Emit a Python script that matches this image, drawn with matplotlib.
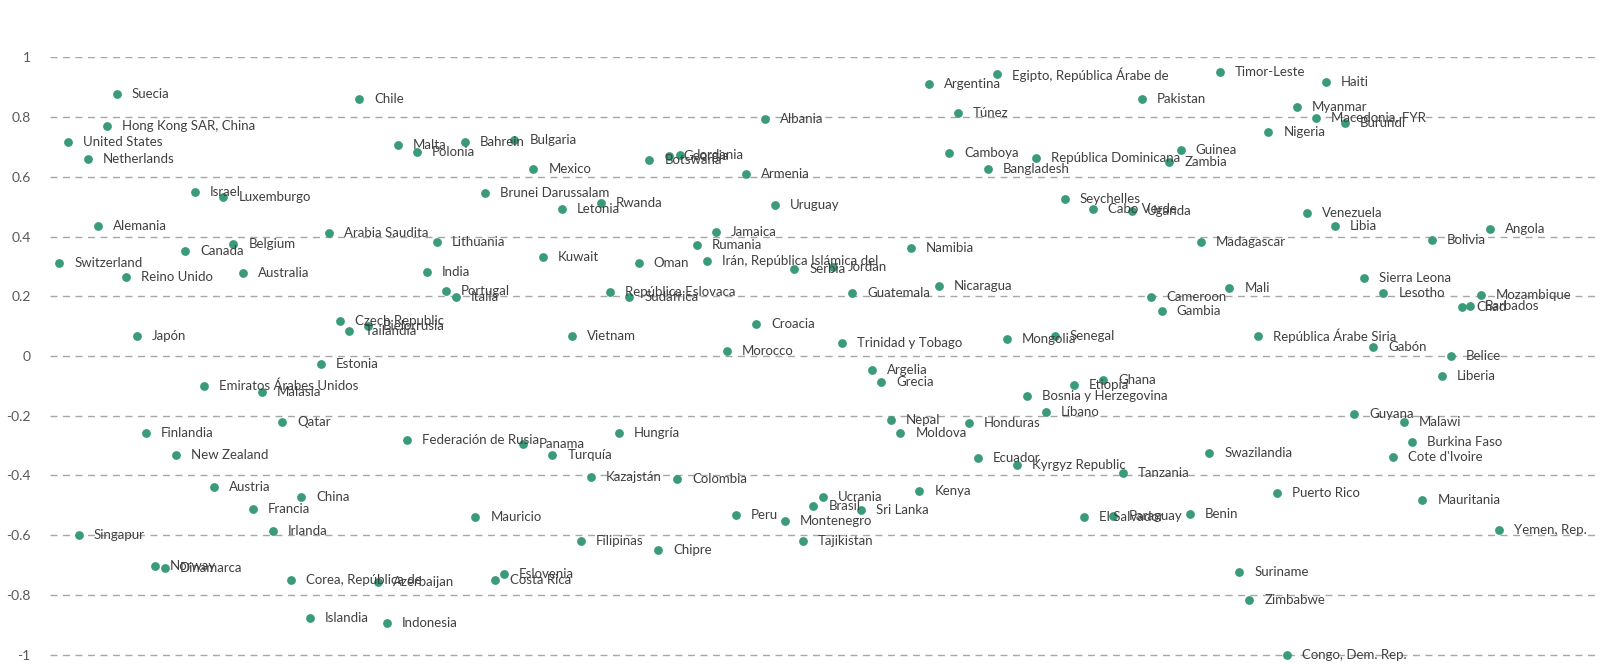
import matplotlib.pyplot as plt

# country labels, x position (0-100) and y value
countries = [
    "Suecia", "Chile", "Hong Kong SAR, China", "United States", "Netherlands",
    "Malta", "Polonia", "Israel", "Luxemburgo", "Alemania",
    "Arabia Saudita", "Belgium", "Canada", "Switzerland", "Reino Unido",
    "Australia", "Czech Republic", "Tailandia", "Bielorrusia", "Japón",
    "Estonia", "Emiratos Árabes Unidos", "Malasia", "Qatar", "Finlandia",
    "New Zealand", "Federación de Rusia", "Austria", "China", "Francia",
    "Irlanda", "Singapur", "Norway", "Dinamarca", "Corea, República de",
    "Azerbaijan", "Islandia", "Indonesia", "Bahrein", "Bulgaria",
    "Albania", "Mexico", "Botswana", "Georgia", "Jordania",
    "Armenia", "Brunei Darussalam", "Letonia", "Rwanda", "Uruguay",
    "Jamaica", "Rumania", "Lithuania", "Kuwait", "Oman",
    "Irán, República Islámica del", "Serbia", "Jordan", "India", "Portugal",
    "Italia", "República Eslovaca", "Sudáfrica", "Vietnam", "Croacia",
    "Morocco", "Hungría", "Panama", "Turquía", "Kazajstán",
    "Colombia", "Mauricio", "Peru", "Montenegro", "Filipinas",
    "Chipre", "Eslovenia", "Costa Rica", "Tajikistan", "Ucrania",
    "Brasil", "Sri Lanka", "Kenya", "Ecuador", "Kyrgyz Republic",
    "Tanzania", "El Salvador", "Paraguay", "Benin", "Swazilandia",
    "Namibia", "Guatemala", "Nicaragua", "Cameroon", "Gambia",
    "Trinidad y Tobago", "Mongolia", "Senegal", "Argelia", "Grecia",
    "Etiopía", "Ghana", "Bosnia y Herzegovina", "Líbano", "Nepal",
    "Moldova", "Honduras", "Argentina", "Egipto, República Árabe de", "Pakistan",
    "Túnez", "Camboya", "República Dominicana", "Bangladesh", "Guinea",
    "Zambia", "Seychelles", "Cabo Verde", "Uganda", "Madagascar",
    "Timor-Leste", "Haiti", "Myanmar", "Macedonia, FYR", "Burundi",
    "Nigeria", "Venezuela", "Libia", "Angola", "Bolivia",
    "Sierra Leona", "Mali", "Lesotho", "Mozambique", "Chad",
    "Barbados", "República Árabe Siria", "Gabón", "Belice", "Liberia",
    "Guyana", "Malawi", "Burkina Faso", "Cote d'Ivoire", "Puerto Rico",
    "Mauritania", "Yemen, Rep.", "Suriname", "Zimbabwe", "Congo, Dem. Rep.",
]

x_vals = [
    4.31, 19.99, 3.67, 1.18, 2.44,
    22.48, 23.70, 9.37, 11.20, 3.08,
    18.05, 11.85, 8.73, 0.60, 4.91,
    12.46, 18.75, 19.35, 20.54, 5.60,
    17.50, 9.95, 13.72, 15.02, 6.19,
    8.13, 23.09, 10.62, 16.22, 13.10,
    14.40, 1.86, 6.79, 7.43, 15.58,
    21.18, 16.81, 21.76, 26.83, 30.01,
    46.22, 31.24, 38.74, 39.99, 40.73,
    44.97, 28.12, 33.08, 35.62, 46.86,
    43.05, 41.82, 25.00, 31.84, 38.05,
    42.49, 48.11, 50.63, 24.35, 25.58,
    26.24, 36.20, 37.45, 33.72, 45.64,
    43.74, 36.78, 30.60, 32.47, 34.97,
    40.55, 27.49, 44.32, 47.51, 34.32,
    39.32, 29.35, 28.77, 48.69, 49.95,
    49.34, 52.40, 56.19, 59.97, 62.49,
    69.34, 66.84, 68.73, 73.69, 74.94,
    55.63, 51.86, 57.48, 71.17, 71.86,
    51.20, 61.86, 64.96, 53.11, 53.72,
    66.19, 68.09, 63.14, 64.36, 54.34,
    54.97, 59.39, 56.84, 61.24, 70.57,
    58.67, 58.11, 63.72, 60.61, 73.09,
    72.35, 65.61, 67.44, 69.92, 74.40,
    75.63, 82.48, 80.59, 81.83, 83.71,
    78.75, 81.24, 83.07, 93.08, 89.31,
    84.94, 76.23, 86.19, 92.50, 91.25,
    91.79, 78.11, 85.54, 90.53, 89.99,
    84.30, 87.51, 88.03, 86.79, 79.34,
    88.71, 93.69, 76.88, 77.52, 79.98,
]

y_vals = [
    0.876, 0.861, 0.770, 0.717, 0.660,
    0.707, 0.684, 0.548, 0.533, 0.435,
    0.413, 0.375, 0.352, 0.312, 0.265,
    0.279, 0.117, 0.085, 0.100, 0.067,
    -0.028, -0.099, -0.120, -0.222, -0.257,
    -0.331, -0.281, -0.438, -0.473, -0.513,
    -0.587, -0.599, -0.703, -0.711, -0.750,
    -0.756, -0.878, -0.894, 0.715, 0.723,
    0.794, 0.625, 0.656, 0.671, 0.672,
    0.608, 0.547, 0.492, 0.513, 0.507,
    0.415, 0.371, 0.381, 0.330, 0.312,
    0.319, 0.290, 0.299, 0.281, 0.219,
    0.199, 0.213, 0.197, 0.067, 0.107,
    0.017, -0.257, -0.295, -0.331, -0.406,
    -0.413, -0.540, -0.532, -0.551, -0.618,
    -0.650, -0.730, -0.751, -0.618, -0.473,
    -0.503, -0.515, -0.451, -0.341, -0.364,
    -0.391, -0.540, -0.535, -0.529, -0.326,
    0.361, 0.210, 0.234, 0.199, 0.152,
    0.043, 0.056, 0.068, -0.047, -0.086,
    -0.098, -0.080, -0.133, -0.187, -0.214,
    -0.257, -0.225, 0.911, 0.943, 0.861,
    0.813, 0.679, 0.662, 0.627, 0.690,
    0.648, 0.527, 0.492, 0.486, 0.382,
    0.951, 0.916, 0.833, 0.798, 0.781,
    0.749, 0.480, 0.436, 0.425, 0.388,
    0.260, 0.227, 0.212, 0.204, 0.165,
    0.168, 0.067, 0.031, 0.000, -0.067,
    -0.195, -0.222, -0.287, -0.337, -0.459,
    -0.482, -0.583, -0.722, -0.816, -1.001,
]

y_ticks = [1, 0.8, 0.6, 0.4, 0.2, 0, -0.2, -0.4, -0.6, -0.8, -1]
y_tick_labels = ["1", "0.8", "0.6", "0.4", "0.2", "0", "-0.2", "-0.4", "-0.6", "-0.8", "-1"]

plt.rcParams['font.family'] = ['Lato', 'DejaVu Sans']

fig = plt.figure(figsize=(16.02, 6.64), dpi=100)
ax = fig.add_axes([0.0312, 0.006, 0.9657, 0.9077])

ax.scatter(x_vals, y_vals, s=40, color='#3a9b78', zorder=3, clip_on=False, linewidths=0)
for name, x, y in zip(countries, x_vals, y_vals):
    ax.annotate(name, (x, y), xytext=(15, 0), textcoords='offset pixels',
                va='center', ha='left', fontsize=9.5, color='#404040', zorder=4)

ax.set_xlim(0, 100)
ax.set_ylim(-1.018, 1)
ax.set_yticks(y_ticks)
ax.set_yticklabels(y_tick_labels)
ax.set_xticks([])
ax.tick_params(axis='y', length=0, pad=14, labelsize=10, labelcolor='#595959')
ax.grid(axis='y', color='#a6a6a6', linestyle=(0, (5, 4)), linewidth=1)
ax.set_axisbelow(True)
for s in ax.spines.values():
    s.set_visible(False)

fig.savefig('out.png', dpi=100)
